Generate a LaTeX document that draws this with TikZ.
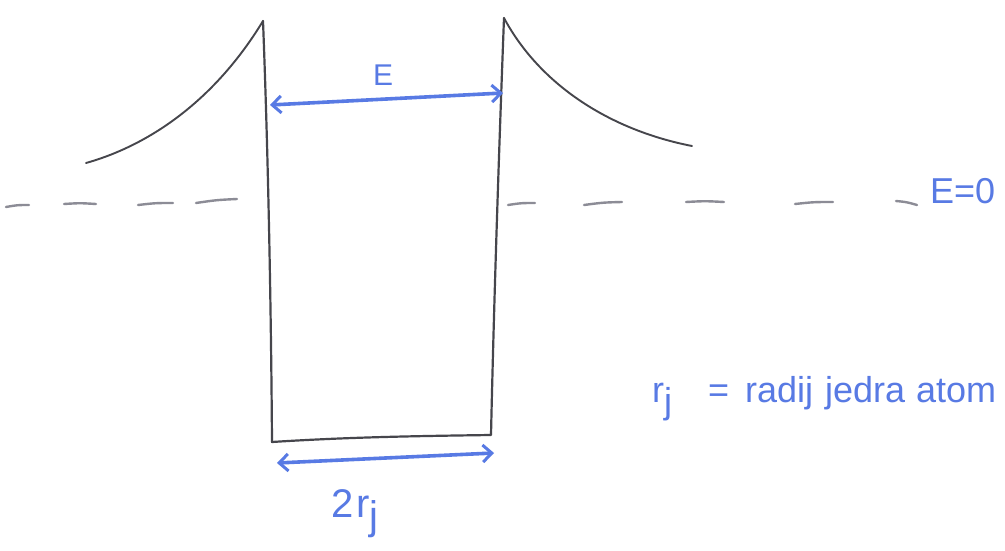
\documentclass[tikz,border=0pt]{standalone}
\usepackage{fontspec}
\setmainfont{Liberation Sans}
\usetikzlibrary{arrows.meta}
\definecolor{pen}{RGB}{88,122,228}
\definecolor{pencil}{RGB}{70,70,76}
\definecolor{dashgray}{RGB}{140,140,150}
\tikzset{
  wall/.style={draw=pencil, line width=2.2pt, line join=round, line cap=round},
  curve/.style={draw=pencil, line width=1.9pt, line cap=round},
  dashseg/.style={draw=dashgray, line width=2.4pt, line cap=round},
  dimarrow/.style={draw=pen, line width=3.6pt, {Straight Barb[length=9pt,width=17pt,line width=3pt]}-{Straight Barb[length=9pt,width=17pt,line width=3pt]}},
  label/.style={text=pen, inner sep=0pt, anchor=base west},
}
\begin{document}
\begin{tikzpicture}[x=1pt,y=-1pt]
\useasboundingbox (0,0) rectangle (1005,551);
\fill[white] (0,0) rectangle (1005,551);
% well corners
\coordinate (lt) at (263,21);
\coordinate (lb) at (272,442);
\coordinate (rb) at (491,435);
\coordinate (rt) at (504,18);
\coordinate (le) at (86,163);
\coordinate (re) at (692,146);
% walls
\draw[wall] (lt) .. controls (268,150) and (271,300) .. (lb)
  .. controls (350,437) and (420,436) .. (rb)
  .. controls (494,300) and (499,150) .. (rt);
% potential tails
\draw[curve] (lt) .. controls (215,100) and (150,145) .. (le);
\draw[curve] (rt) .. controls (540,85) and (610,130) .. (re);
% dashed zero level
\foreach \a/\b/\y/\z in {6/29/207/205, 64/96/204/204, 138/173/205/203, 196/237/203/199, 508/535/205/203, 584/622/205/202, 686/724/202/202, 795/833/204/202, 896/917/201/205}
  \draw[dashseg] (\a,\y) .. controls ({(\a+\b)/2},{(\y+\z)/2-1}) .. (\b,\z);
% E arrow
\coordinate (ea) at (270,105);
\coordinate (eb) at (503,93);
\draw[dimarrow] (ea) -- (eb);
\node[label, font=\fontsize{30}{30}\selectfont] (E) at (373,86) {E};
% 2rj arrow
\coordinate (ba) at (277,463);
\coordinate (bb) at (494,453);
\draw[dimarrow] (ba) -- (bb);
\node[label, font=\fontsize{40}{40}\selectfont] (tworj) at (331,517) {2\hspace{3pt}r\raisebox{-0.32em}{j}};
% E = 0
\node[label, font=\fontsize{36}{36}\selectfont] (Ezero) at (930,203) {E=0};
% legend
\node[label, font=\fontsize{36}{36}\selectfont] (legend) at (652,402)
  {\makebox[56pt][l]{r\raisebox{-0.32em}{j}}\makebox[37pt][l]{=}\makebox[80pt][l]{radij}\makebox[91pt][l]{jedra}atom};
\end{tikzpicture}
\end{document}
